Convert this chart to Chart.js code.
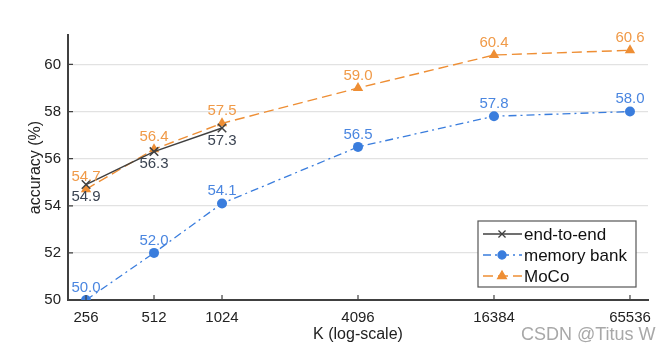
<!DOCTYPE html>
<html>
<head>
<meta charset="utf-8">
<script src="https://cdn.jsdelivr.net/npm/chart.js@4/dist/chart.umd.min.js"></script>
<style>
  body { margin: 0; background: #fff; }
  #wrap { position: relative; width: 672px; height: 351px; }
  #mark { position: absolute; left: 521px; top: 324px; font: 18px "Liberation Sans", Arial, sans-serif; color: #a8a8a8; }
</style>
</head>
<body>
<div id="wrap">
  <canvas id="chart" width="672" height="351"></canvas>
  <div id="mark">CSDN @Titus W</div>
</div>
<script>
const kValues = [256, 512, 1024, 4096, 16384, 65536]
const endToEnd = [54.9, 56.3, 57.3]
const memoryBank = [50.0, 52.0, 54.1, 56.5, 57.8, 58.0]
const moco = [54.7, 56.4, 57.5, 59.0, 60.4, 60.6]
const yTicks = [50, 52, 54, 56, 58, 60]

const FONT = '"Liberation Sans", Arial, sans-serif'
const dark = '#404040'
const blue = '#3a7ddd'
const orange = '#ee8e34'

const toPoints = (arr) => arr.map((v, i) => ({ x: kValues[i], y: v }))

// value labels above / below each marker
const valueLabels = {
    id: 'valueLabels',
    afterDatasetsDraw(chart) {
        const ctx = chart.ctx
        ctx.save()
        ctx.font = '15px ' + FONT
        ctx.textAlign = 'center'
        ctx.textBaseline = 'middle'
        chart.data.datasets.forEach((ds, di) => {
            const meta = chart.getDatasetMeta(di)
            meta.data.forEach((pt, i) => {
                ctx.fillStyle = ds.labelColor
                ctx.fillText(ds.data[i].y.toFixed(1), pt.x, pt.y + ds.labelOffset)
            })
        })
        ctx.restore()
    }
}

// ticks pointing into the plot, and the boxed legend
const extras = {
    id: 'extras',
    afterDraw(chart) {
        const ctx = chart.ctx
        const area = chart.chartArea
        const xs = chart.scales.x
        const ys = chart.scales.y
        ctx.save()
        ctx.strokeStyle = dark
        ctx.lineWidth = 1.2
        ctx.beginPath()
        kValues.forEach(k => {
            const x = xs.getPixelForValue(k)
            ctx.moveTo(x, area.bottom)
            ctx.lineTo(x, area.bottom - 5)
        })
        yTicks.forEach(t => {
            const y = ys.getPixelForValue(t)
            ctx.moveTo(area.left, y)
            ctx.lineTo(area.left + 5, y)
        })
        ctx.stroke()

        // legend
        const bx = area.right - 170, by = area.bottom - 79, bw = 158, bh = 66
        ctx.fillStyle = '#fff'
        ctx.fillRect(bx, by, bw, bh)
        ctx.strokeStyle = '#555'
        ctx.lineWidth = 1.2
        ctx.strokeRect(bx, by, bw, bh)
        ctx.font = '17px ' + FONT
        ctx.textBaseline = 'middle'
        chart.data.datasets.forEach((ds, i) => {
            const y = by + 13 + i * 21
            ctx.save()
            ctx.strokeStyle = ds.borderColor
            ctx.lineWidth = 1.3
            ctx.setLineDash(ds.borderDash || [])
            ctx.beginPath()
            ctx.moveTo(bx + 5, y)
            ctx.lineTo(bx + 44, y)
            ctx.stroke()
            ctx.restore()
            ctx.fillStyle = ds.pointBackgroundColor
            ctx.strokeStyle = ds.borderColor
            ctx.lineWidth = 1.3
            Chart.helpers.drawPoint(ctx, {
                pointStyle: ds.pointStyle, radius: ds.pointRadius - 1, rotation: 0, borderWidth: 1.3
            }, bx + 24, y)
            ctx.fillStyle = '#111'
            ctx.fillText(ds.label, bx + 46, y + 1)
        })
        ctx.restore()
    }
}

new Chart(document.getElementById('chart'), {
    type: 'line',
    data: {
        datasets: [
            {
                label: 'end-to-end',
                data: toPoints(endToEnd),
                borderColor: dark,
                borderWidth: 1.5,
                pointStyle: 'crossRot',
                pointRadius: 6,
                pointBorderWidth: 1.5,
                pointBackgroundColor: dark,
                labelColor: '#3b4452',
                labelOffset: 12.5,
                order: 1
            },
            {
                label: 'memory bank',
                data: toPoints(memoryBank),
                borderColor: blue,
                borderWidth: 1.3,
                borderDash: [8, 4, 2, 4],
                pointStyle: 'circle',
                pointRadius: 5,
                pointBorderWidth: 0,
                pointBackgroundColor: blue,
                labelColor: '#4a86e0',
                labelOffset: -12.5,
                order: 3
            },
            {
                label: 'MoCo',
                data: toPoints(moco),
                borderColor: orange,
                borderWidth: 1.4,
                borderDash: [10, 5],
                pointStyle: 'triangle',
                pointRadius: 6,
                pointBorderWidth: 0,
                pointBackgroundColor: orange,
                labelColor: '#f09a48',
                labelOffset: -12.5,
                order: 2
            }
        ]
    },
    options: {
        responsive: false,
        animation: false,
        layout: { padding: { top: 35, right: 24, left: 0, bottom: 0 } },
        plugins: {
            legend: { display: false },
            tooltip: { enabled: false }
        },
        scales: {
            x: {
                type: 'logarithmic',
                min: 256 * Math.pow(2, -0.265),
                max: 65536 * Math.pow(2, 0.265),
                afterBuildTicks: (s) => { s.ticks = kValues.map(v => ({ value: v })) },
                afterFit: (s) => { s.height = 51 },
                grid: { display: false, drawTicks: false },
                border: { color: dark, width: 2 },
                ticks: {
                    autoSkip: false,
                    maxRotation: 0,
                    padding: 9,
                    color: '#222',
                    font: { family: FONT, size: 15 },
                    callback: (v) => String(v)
                },
                title: {
                    display: true,
                    text: 'K (log-scale)',
                    color: '#222',
                    font: { family: FONT, size: 16 },
                    padding: { top: 0, bottom: 7 }
                }
            },
            y: {
                min: 50,
                max: 61.25,
                afterBuildTicks: (s) => { s.ticks = yTicks.map(v => ({ value: v })) },
                afterFit: (s) => { s.width = 68 },
                grid: {
                    drawTicks: false,
                    color: (c) => c.tick && c.tick.value === 50 ? 'rgba(0,0,0,0)' : '#e2e2e2',
                    lineWidth: 1.2
                },
                border: { color: dark, width: 2 },
                ticks: {
                    padding: 7,
                    color: '#222',
                    font: { family: FONT, size: 15 }
                },
                title: {
                    display: true,
                    text: 'accuracy (%)',
                    color: '#222',
                    font: { family: FONT, size: 16 },
                    padding: { top: 26, bottom: 0 }
                }
            }
        }
    },
    plugins: [valueLabels, extras]
})
</script>
</body>
</html>
